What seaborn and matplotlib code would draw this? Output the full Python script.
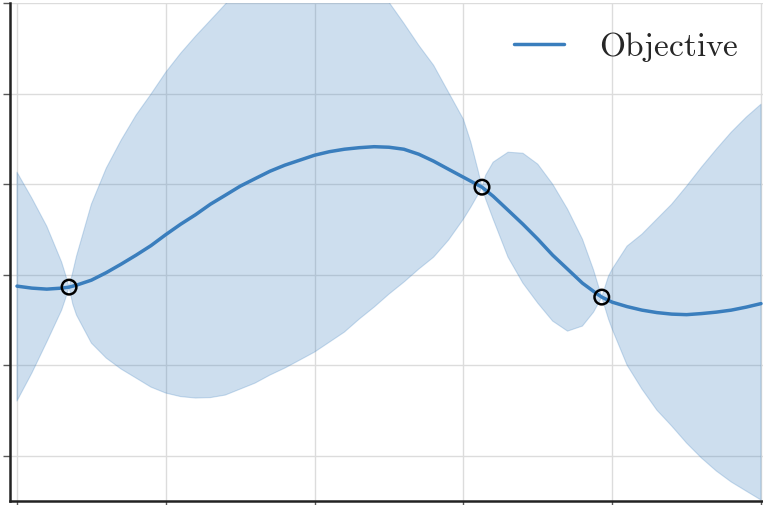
import numpy as np
import pandas as pd
import matplotlib
matplotlib.use("Agg")
import matplotlib.pyplot as plt
import seaborn as sns

# --- data ---
mean_x = [0.00, 0.02, 0.04, 0.06, 0.07, 0.08, 0.10, 0.12, 0.14, 0.16,
          0.18, 0.20, 0.22, 0.24, 0.26, 0.28, 0.30, 0.32, 0.34, 0.36,
          0.38, 0.40, 0.42, 0.44, 0.46, 0.48, 0.50, 0.52, 0.54, 0.56,
          0.58, 0.60, 0.62, 0.625, 0.64, 0.66, 0.68, 0.70, 0.72, 0.74,
          0.76, 0.78, 0.786, 0.80, 0.82, 0.84, 0.86, 0.88, 0.90, 0.92,
          0.94, 0.96, 0.98, 1.00]
mean_y = [-0.127, -0.149, -0.160, -0.149, -0.138, -0.116, -0.061, 0.022, 0.116, 0.215,
          0.320, 0.442, 0.557, 0.662, 0.778, 0.877, 0.977, 1.060, 1.142, 1.209,
          1.264, 1.319, 1.358, 1.385, 1.402, 1.413, 1.407, 1.385, 1.330, 1.253,
          1.164, 1.076, 0.988, 0.966, 0.866, 0.712, 0.557, 0.392, 0.215, 0.061,
          -0.094, -0.215, -0.248, -0.304, -0.353, -0.392, -0.419, -0.436, -0.442, -0.430,
          -0.414, -0.392, -0.359, -0.320]

band_x = [0.00, 0.02, 0.04, 0.06, 0.065, 0.07, 0.075, 0.08, 0.10, 0.12,
          0.14, 0.16, 0.18, 0.20, 0.22, 0.24, 0.26, 0.28, 0.30, 0.32,
          0.34, 0.36, 0.38, 0.40, 0.42, 0.44, 0.46, 0.48, 0.50, 0.52,
          0.54, 0.56, 0.58, 0.60, 0.61, 0.62, 0.625, 0.63, 0.64, 0.66,
          0.68, 0.70, 0.72, 0.74, 0.76, 0.775, 0.786, 0.795, 0.80, 0.82,
          0.84, 0.86, 0.88, 0.90, 0.92, 0.94, 0.96, 0.98, 1.00]
band_upper = [1.131, 0.844, 0.535, 0.138, 0.006, -0.138, 0.028, 0.204, 0.778, 1.176,
              1.485, 1.761, 1.992, 2.235, 2.445, 2.633, 2.809, 2.986, 3.173, 3.350,
              3.505, 3.637, 3.725, 3.792, 3.781, 3.703, 3.538, 3.284, 3.008, 2.776,
              2.533, 2.312, 2.014, 1.716, 1.463, 1.142, 0.966, 1.098, 1.242, 1.352,
              1.341, 1.220, 0.999, 0.723, 0.392, 0.050, -0.248, -0.017, 0.061, 0.315,
              0.447, 0.613, 0.778, 0.977, 1.187, 1.385, 1.573, 1.738, 1.882]
band_lower = [-1.396, -1.087, -0.745, -0.392, -0.270, -0.138, -0.326, -0.447, -0.756, -0.922,
              -1.043, -1.142, -1.242, -1.308, -1.347, -1.363, -1.358, -1.330, -1.264, -1.198,
              -1.109, -1.032, -0.944, -0.855, -0.745, -0.635, -0.491, -0.359, -0.215, -0.083,
              0.061, 0.193, 0.381, 0.613, 0.745, 0.889, 0.966, 0.833, 0.613, 0.193,
              -0.094, -0.315, -0.513, -0.624, -0.568, -0.414, -0.248, -0.491, -0.602, -0.999,
              -1.264, -1.496, -1.672, -1.860, -2.025, -2.169, -2.290, -2.390, -2.489]

obs_x = [0.07, 0.625, 0.786]
obs_y = [-0.138, 0.966, -0.248]

x_ticks = [0.0, 0.2, 0.4, 0.6, 0.8, 1.0]
y_ticks = [-2, -1, 0, 1, 2, 3]

line_color = "#3a7ebd"

sns.set_theme(style="whitegrid")
plt.rcParams["mathtext.fontset"] = "cm"

fig = plt.figure(figsize=(7.63, 5.06), dpi=100)
ax = fig.add_axes([10 / 763, 4 / 506, 753 / 763, 498 / 506])

df = pd.DataFrame({"x": mean_x, "mean": mean_y})

ax.fill_between(band_x, band_lower, band_upper, color=line_color, alpha=0.25,
                linewidth=0.8, zorder=2)
sns.lineplot(data=df, x="x", y="mean", ax=ax, color=line_color, linewidth=2.5,
             sort=False, label=r"$\mathrm{Objective}$", zorder=3)
sns.scatterplot(x=obs_x, y=obs_y, ax=ax, s=110, facecolor="none", edgecolor="black",
                linewidth=1.8, zorder=5, legend=False)

ax.set_xlim(-0.0094, 1.0027)
ax.set_ylim(-2.5, 3.0)
ax.set_xticks(x_ticks)
ax.set_yticks(y_ticks)
ax.set_xlabel("")
ax.set_ylabel("")
ax.tick_params(labelleft=False, labelbottom=False, left=True, bottom=True,
               length=5, width=1, color="0.35", direction="out")
ax.grid(True, color="#dcdcdc", linewidth=1.0)
ax.set_axisbelow(True)
ax.set_facecolor("white")
for side in ["top", "right"]:
    ax.spines[side].set_visible(False)
for side in ["left", "bottom"]:
    ax.spines[side].set_visible(True)
    ax.spines[side].set_color("#222222")
    ax.spines[side].set_linewidth(1.8)

leg = ax.legend(loc="upper right", frameon=False, fontsize=24,
                handlelength=1.5, handletextpad=1.05, borderpad=0, borderaxespad=0,
                bbox_to_anchor=(0.968, 0.94), bbox_transform=fig.transFigure)

fig.savefig("out.png", dpi=100, facecolor="white")
